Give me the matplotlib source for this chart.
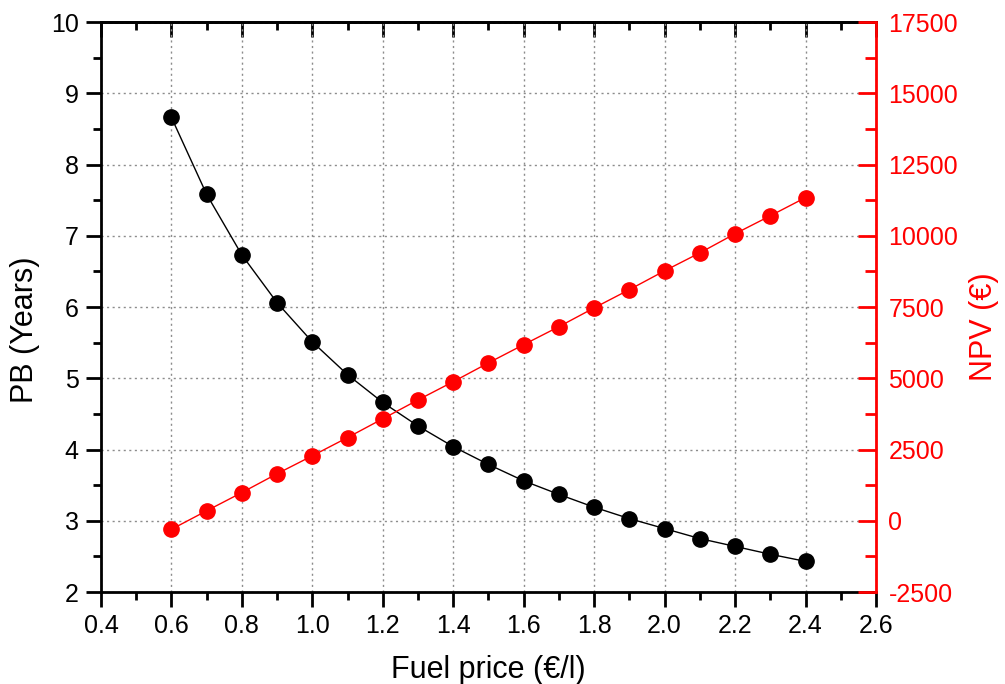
import matplotlib
matplotlib.use("Agg")
import matplotlib.pyplot as plt
from matplotlib.ticker import MultipleLocator, FormatStrFormatter

plt.rcParams['font.family'] = ['Liberation Sans', 'DejaVu Sans']
plt.rcParams['axes.unicode_minus'] = False

fuel_price = [0.6, 0.7, 0.8, 0.9, 1.0, 1.1, 1.2, 1.3, 1.4, 1.5,
              1.6, 1.7, 1.8, 1.9, 2.0, 2.1, 2.2, 2.3, 2.4]
payback_years = [8.66, 7.58, 6.73, 6.06, 5.51, 5.05, 4.66, 4.33, 4.04, 3.79,
                 3.56, 3.37, 3.19, 3.03, 2.89, 2.75, 2.64, 2.53, 2.43]
npv_eur = [-300, 350, 990, 1650, 2280, 2920, 3580, 4240, 4880, 5540,
           6180, 6810, 7470, 8110, 8770, 9400, 10070, 10700, 11340]

fig = plt.figure(figsize=(10.05, 6.84), dpi=100)
ax = fig.add_axes([0.1005, 0.1345, 0.7711, 0.8333])
ax2 = ax.twinx()

ax.plot(fuel_price, payback_years, color='black', lw=1.0, marker='o',
        ms=11, mec='black', mfc='black', zorder=3)
ax2.plot(fuel_price, npv_eur, color='red', lw=1.0, marker='o',
         ms=11, mec='red', mfc='red', zorder=3)

ax.set_xlim(0.4, 2.6)
ax.set_ylim(2, 10)
ax2.set_ylim(-2500, 17500)

ax.xaxis.set_major_locator(MultipleLocator(0.2))
ax.xaxis.set_minor_locator(MultipleLocator(0.1))
ax.xaxis.set_major_formatter(FormatStrFormatter('%.1f'))
ax.yaxis.set_major_locator(MultipleLocator(1))
ax.yaxis.set_minor_locator(MultipleLocator(0.5))
ax2.yaxis.set_major_locator(MultipleLocator(2500))
ax2.yaxis.set_minor_locator(MultipleLocator(1250))

ax.grid(True, which='major', color='#8c8c8c', linestyle=(0, (1.5, 2.5)), lw=1.0)
ax.set_axisbelow(True)

for side in ['left', 'bottom', 'top']:
    ax.spines[side].set_linewidth(2.0)
    ax.spines[side].set_color('black')
ax.spines['right'].set_visible(False)
for side in ['left', 'bottom', 'top']:
    ax2.spines[side].set_visible(False)
ax2.spines['right'].set_linewidth(2.0)
ax2.spines['right'].set_color('red')

ax.tick_params(axis='both', which='major', direction='out', length=11, width=2,
               labelsize=18, pad=5, color='black')
ax.tick_params(axis='both', which='minor', direction='out', length=6, width=2,
               color='black')

# top axis: inward ticks without labels
top = ax.secondary_xaxis('top')
top.xaxis.set_major_locator(MultipleLocator(0.2))
top.xaxis.set_minor_locator(MultipleLocator(0.1))
top.tick_params(which='major', direction='in', length=11, width=2, labeltop=False)
top.tick_params(which='minor', direction='in', length=6, width=2)
top.spines['top'].set_linewidth(2.0)

ax2.tick_params(axis='y', which='major', direction='in', length=13, width=2,
                labelsize=18, colors='red', pad=9)
ax2.tick_params(axis='y', which='minor', direction='in', length=8, width=2,
                colors='red')

ax.set_xlabel('Fuel price (€/l)', fontsize=22, labelpad=12)
ax.set_ylabel('PB (Years)', fontsize=22, labelpad=8)
ax2.set_ylabel('NPV (€)', fontsize=22, color='red', labelpad=8)
ax.yaxis.label.set_y(0.46)
ax2.yaxis.label.set_y(0.465)

fig.savefig('out.png', dpi=100)
